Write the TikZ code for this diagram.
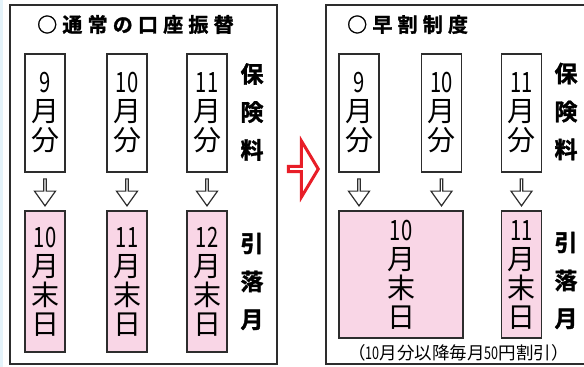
\documentclass[tikz,border=0pt]{standalone}
\usepackage{fontspec}
\newfontfamily\jp{Noto Sans CJK JP}
\newfontfamily\jpb{Noto Sans CJK JP Bold}[FakeBold=1.5]
\usetikzlibrary{shapes.arrows,calc}

\definecolor{boxpink}{RGB}{249,214,230}
\definecolor{boxline}{RGB}{45,45,45}
\definecolor{arrred}{RGB}{232,30,40}
\definecolor{edgeblue}{RGB}{228,243,250}

% narrow digits as in the printed leaflet
\newcommand{\nd}[1]{\scalebox{0.72}[1]{#1}}

\tikzset{
    fee/.style={draw=boxline, line width=1.2pt, minimum width=40pt, minimum height=118pt,
        inner sep=0pt, align=center, font={\jp\fontsize{28}{29}\selectfont}},
    debit/.style={fee, fill=boxpink, minimum height=141pt},
    side/.style={align=center, inner sep=0pt, font={\jpb\fontsize{23}{38}\selectfont}},
    downarr/.style={single arrow, draw=boxline, line width=1.2pt, fill=white,
        shape border rotate=270, minimum height=27pt, minimum width=21pt,
        single arrow head extend=4.5pt, single arrow tip angle=71, inner sep=0pt},
    paneltitle/.style={anchor=west, inner sep=0pt,
        font={\jpb\fontsize{20}{20}\selectfont\addfontfeature{LetterSpace=26}}}
}

\begin{document}
\begin{tikzpicture}[x=1pt, y=-1pt]
        \useasboundingbox (0,0) rectangle (584,367);
        \fill [edgeblue] (0,0) rectangle (3,367);

        % left panel: usual transfer
        \node [draw=boxline, line width=1.2pt, minimum width=267pt, minimum height=359pt,
            inner sep=0pt] (usual) at (143.5,184.5) {};
        \node [paneltitle] (usualtitle) at (37,24.5) {○通常の口座振替};
        \node [fee] (uf1) at (45,113) {\nd{9}\\月\\分};
        \node [fee] (uf2) at (127,113) {\nd{10}\\月\\分};
        \node [fee] (uf3) at (207,113) {\nd{11}\\月\\分};
        \node [debit] (ud1) at (45,281.5) {\nd{10}\\月\\末\\日};
        \node [debit] (ud2) at (127,281.5) {\nd{11}\\月\\末\\日};
        \node [debit] (ud3) at (207,281.5) {\nd{12}\\月\\末\\日};
        \node [downarr] (ua1) at ($(uf1.south)!0.5!(ud1.north)$) {};
        \node [downarr] (ua2) at ($(uf2.south)!0.5!(ud2.north)$) {};
        \node [downarr] (ua3) at ($(uf3.south)!0.5!(ud3.north)$) {};
        \node [side] (ufee) at (252,112) {保\\険\\料};
        \node [side] (udebit) at (252,281.5) {引\\落\\月};

        % red arrow between the panels
        \node [single arrow, draw=arrred, line width=3pt, minimum height=30pt,
            minimum width=56pt, single arrow head extend=14.5pt, single arrow tip angle=118,
            inner sep=0pt] (change) at (302.5,169) {};

        % right panel: early discount
        \draw [boxline, line width=1.2pt] (600,5) -- (326,5) -- (326,364) -- (600,364);
        \node [paneltitle] (earlytitle) at (347,24.5) {○早割制度};
        \node [fee] (ef1) at (359,113) {\nd{9}\\月\\分};
        \node [fee] (ef2) at (441.5,113) {\nd{10}\\月\\分};
        \node [fee] (ef3) at (521.5,113) {\nd{11}\\月\\分};
        \node [debit, minimum width=124pt, minimum height=127pt] (ed1) at (401,274.5) {\nd{10}\\月\\末\\日};
        \node [debit, minimum height=127pt] (ed3) at (521.5,274.5) {\nd{11}\\月\\末\\日};
        \node [downarr] (ea1) at (ef1.south |- ua1) {};
        \node [downarr] (ea2) at (ef2.south |- ua1) {};
        \node [downarr] (ea3) at ($(ef3.south)!0.5!(ed3.north)$) {};
        \node [side] (efee) at (566,111.5) {保\\険\\料};
        \node [side] (edebit) at (566,280.5) {引\\落\\月};
        \node [inner sep=0pt, font={\jp\fontsize{17.5}{17.5}\selectfont}] (discount) at (458.5,353)
            {（\nd{10}月分以降毎月\nd{50}円割引）};
\end{tikzpicture}
\end{document}
